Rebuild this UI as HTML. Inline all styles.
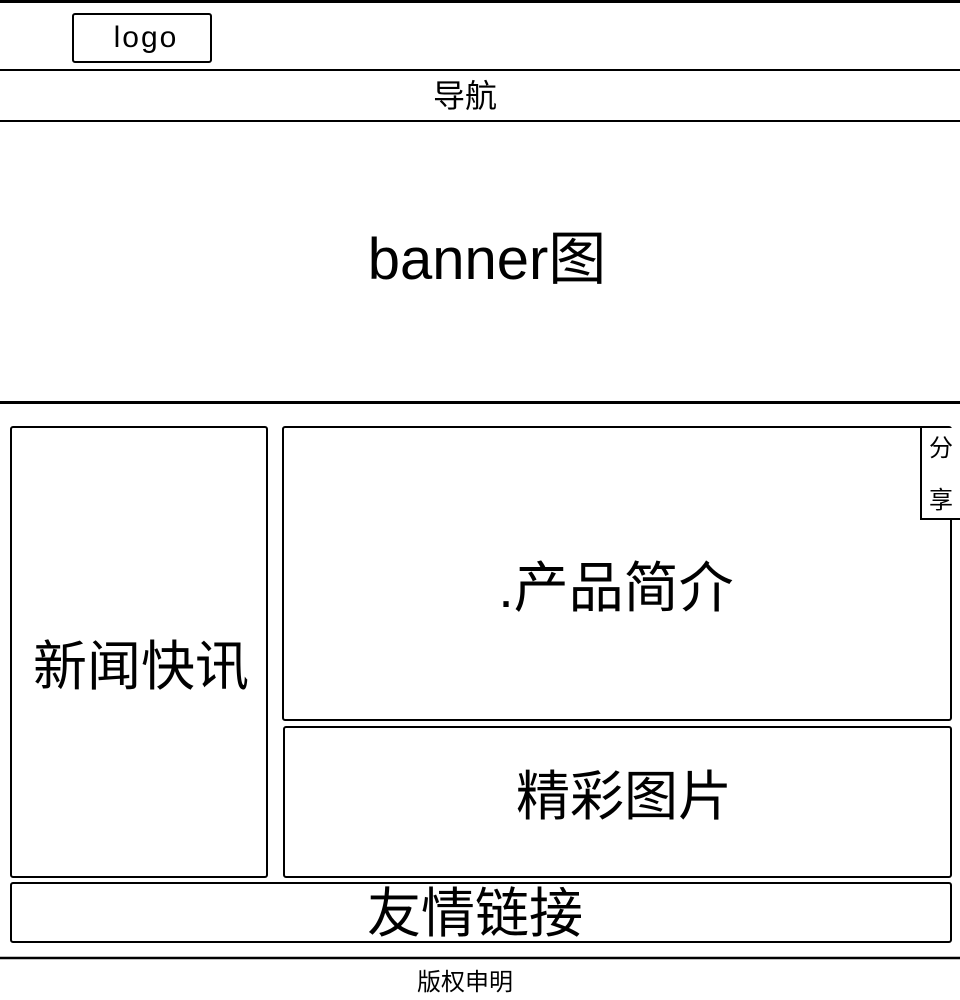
<!DOCTYPE html>
<html><head><meta charset="utf-8"><style>
html,body{margin:0;padding:0;background:#fff;}
svg{display:block;}
text{font-family:"Liberation Sans","Noto Sans CJK SC",sans-serif;fill:#000;}
</style></head><body>
<svg width="960" height="1000" viewBox="0 0 960 1000" xmlns="http://www.w3.org/2000/svg">
<rect width="960" height="1000" fill="#fff"/>
<g stroke="#000" fill="none">
<line x1="0" y1="1.5" x2="960" y2="1.5" stroke-width="3"/>
<line x1="0" y1="70" x2="960" y2="70" stroke-width="2"/>
<line x1="0" y1="121" x2="960" y2="121" stroke-width="2"/>
<line x1="0" y1="402.5" x2="960" y2="402.5" stroke-width="3"/>
<line x1="0" y1="958" x2="960" y2="958" stroke-width="2.5"/>
<rect x="73" y="14" width="138" height="48" rx="2" stroke-width="2"/>
<rect x="11" y="427" width="256" height="450" rx="2" stroke-width="2"/>
<rect x="283" y="427" width="668" height="293" rx="2" stroke-width="2"/>
<rect x="284" y="727" width="667" height="150" rx="2" stroke-width="2"/>
<rect x="11" y="883" width="940" height="59" rx="2" stroke-width="2"/>
<rect x="921" y="428" width="45" height="91" fill="#fff" stroke="none"/>
<path d="M921 427 V519 H962" stroke-width="2"/>
</g>
<text x="146" y="47" font-size="30" text-anchor="middle" letter-spacing="2">logo</text>
<text x="465" y="107" font-size="32" text-anchor="middle">导航</text>
<text x="487" y="279" font-size="58" text-anchor="middle">banner图</text>
<text x="616" y="607" font-size="55" text-anchor="middle">.产品简介</text>
<text x="141" y="685" font-size="54" text-anchor="middle">新闻快讯</text>
<text x="624" y="815" font-size="54" text-anchor="middle">精彩图片</text>
<text x="475" y="932" font-size="54" text-anchor="middle">友情链接</text>
<text x="465" y="990" font-size="24" text-anchor="middle">版权申明</text>
<text x="941" y="456" font-size="24" text-anchor="middle">分</text>
<text x="941" y="508" font-size="24" text-anchor="middle">享</text>
</svg>
</body></html>
